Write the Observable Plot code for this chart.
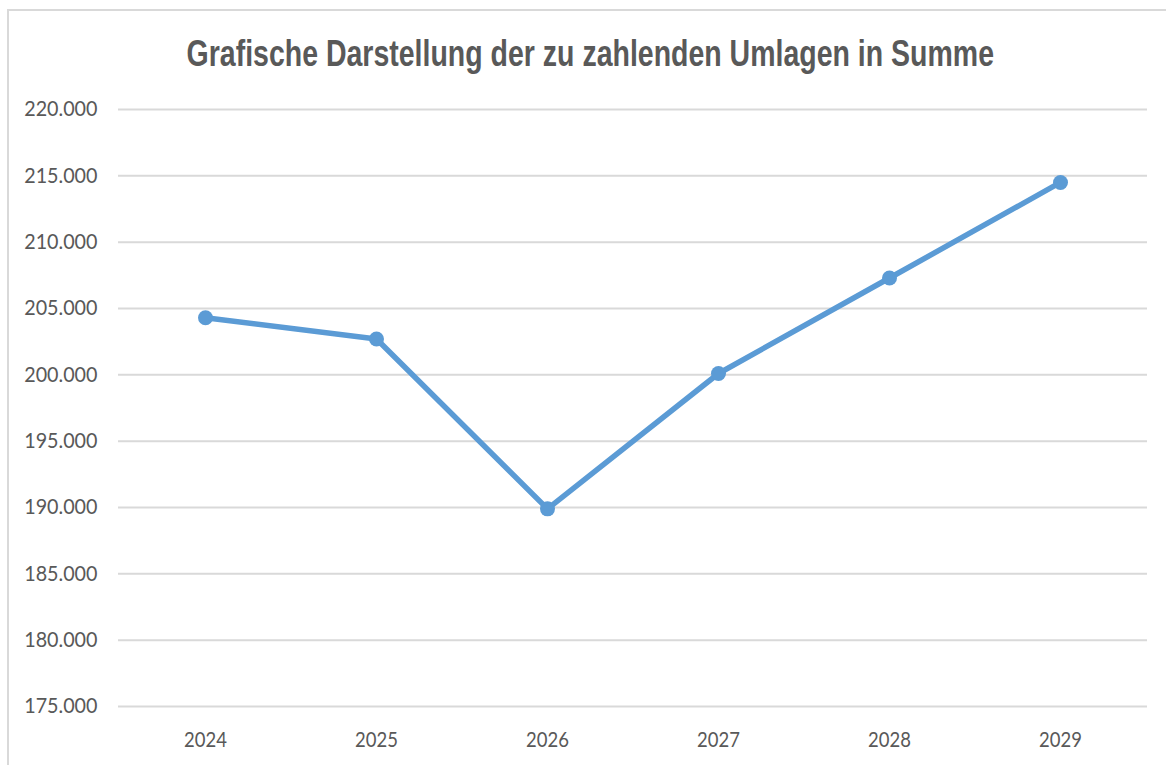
<!DOCTYPE html>
<html>
<head>
<meta charset="utf-8">
<script src="https://cdn.jsdelivr.net/npm/d3@7"></script>
<script src="https://cdn.jsdelivr.net/npm/@observablehq/plot@0.6"></script>
<style>
  html, body { margin: 0; padding: 0; background: #fff; overflow: hidden; }
  #frame {
    position: absolute; left: 7px; top: 9px;
    width: 1300px; height: 900px;
    border-left: 2px solid #d9d9d9; border-top: 2px solid #d9d9d9;
    background: #fff;
  }
  #title {
    height: 70px; width: 1157px; padding-left: 6px; box-sizing: border-box;
    text-align: center; white-space: nowrap;
    font-family: "Liberation Sans", Arial, sans-serif;
    font-weight: bold; font-size: 37px; color: #595959;
    line-height: 86px; overflow: visible;
  }
  #title span { display: inline-block; transform: scaleX(0.77); transform-origin: center; }
  #chart svg { display: block; }
</style>
</head>
<body>
<div id="frame">
  <div id="title"><span>Grafische Darstellung der zu zahlenden Umlagen in Summe</span></div>
  <div id="chart"></div>
</div>
<script>
const years = ["2024", "2025", "2026", "2027", "2028", "2029"];
const values = [204300, 202700, 189900, 200100, 207300, 214500];
const yTicks = [175000, 180000, 185000, 190000, 195000, 200000, 205000, 210000, 215000, 220000];

const data = years.map((y, i) => ({year: y, value: values[i]}));
const de = d3.formatLocale({decimal: ",", thousands: ".", grouping: [3], currency: ["", " €"]});
const fmt = de.format(",d");

const chart = Plot.plot({
  width: 1157,
  height: 684,
  marginLeft: 109,
  marginRight: 19,
  marginTop: 28,
  marginBottom: 59,
  style: {fontFamily: "Lato, sans-serif", fontSize: "21px", color: "#595959", background: "#fff"},
  x: {type: "point", domain: years, padding: 0.5, label: null},
  y: {domain: [175000, 220000], ticks: yTicks, label: null},
  marks: [
    Plot.gridY(yTicks, {stroke: "#d9d9d9", strokeOpacity: 1, strokeWidth: 2}),
    Plot.axisY(yTicks, {tickSize: 0, tickPadding: 21, tickFormat: fmt, label: null, fill: "#595959", fontSize: 21}),
    Plot.axisX({tickSize: 0, tickPadding: 26, label: null, fill: "#595959", fontSize: 21}),
    Plot.line(data, {x: "year", y: "value", stroke: "#5b9bd5", strokeWidth: 5.5}),
    Plot.dot(data, {x: "year", y: "value", r: 7.5, fill: "#5b9bd5", stroke: "none"})
  ]
});
// condense tick labels horizontally to mimic the reference's narrow glyphs
chart.querySelectorAll('g[aria-label="y-axis tick label"] text').forEach(t => {
  t.setAttribute("transform", (t.getAttribute("transform") || "") + " scale(0.94,1)");
});
chart.querySelectorAll('g[aria-label="x-axis tick label"] text').forEach(t => {
  t.setAttribute("transform", (t.getAttribute("transform") || "") + " scale(0.88,1)");
});
document.getElementById("chart").appendChild(chart);
</script>
</body>
</html>
